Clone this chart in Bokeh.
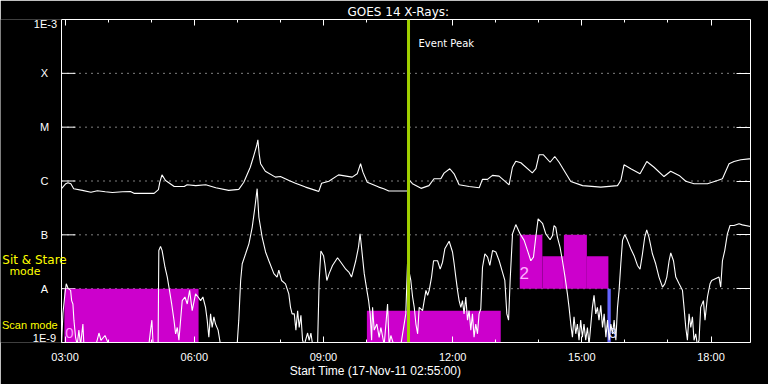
from bokeh.plotting import figure
from bokeh.models import LinearAxis, LogAxis, FixedTicker, Label, Span
from bokeh.embed import file_html
from bokeh.resources import INLINE

# ---------------- data (time = minutes after 00:00 UT, 17-Nov-2011) ----------------
x_start, x_end = 175, 1135          # 02:55 .. 18:55
tick_minutes = [180, 360, 540, 720, 900, 1080]
tick_labels = ["03:00", "06:00", "09:00", "12:00", "15:00", "18:00"]
minor_minutes = [240, 300, 420, 480, 600, 660, 780, 840, 960, 1020]

level_values = [1e-9, 1e-8, 1e-7, 1e-6, 1e-5, 1e-4, 1e-3]
level_names = ["1E-9", "A", "B", "C", "M", "X", "1E-3"]

# GOES 1-8 A (long channel)
long_t = [175, 181, 184, 188, 192, 204, 216, 225, 236, 246,
          260, 271, 276, 304, 310, 312, 315, 320, 332, 346,
          350, 362, 376, 390, 408, 422, 429, 438, 443, 447,
          448.6, 450.4, 452.4, 459, 473, 480, 492, 501, 515, 529,
          533.5, 537.4, 547.5, 561, 580, 587, 591.7, 595, 601, 617,
          624, 631, 657, 659.3, 664, 676, 687, 694, 703.5, 708,
          716, 722, 729, 743, 757, 761.5, 768.5, 775.5, 784.7, 798.6,
          803.3, 808, 815, 831, 836, 840.4, 846.5, 855.8, 862.3, 868.3,
          884.6, 901, 926.4, 949.7, 954.3, 958.8, 968.2, 981.1, 990.5, 1000.6,
          1014.5, 1023.8, 1035.5, 1044.8, 1056.3, 1075, 1089, 1095.9, 1105.1, 1112,
          1121.5, 1133, 1135]
long_flux = [7.2e-7, 8.9e-7, 9.3e-7, 8.9e-7, 7.2e-7, 6.7e-7, 6.2e-7, 6.6e-7, 6.3e-7, 6.1e-7,
             6.3e-7, 6.4e-7, 5.9e-7, 5.9e-7, 6.9e-7, 9.5e-7, 1.30e-6, 1.02e-6, 7.9e-7, 7.9e-7,
             8.5e-7, 8.2e-7, 8.5e-7, 7.5e-7, 6.7e-7, 7.0e-7, 9.5e-7, 1.80e-6, 2.98e-6, 4.56e-6,
             5.82e-6, 3.20e-6, 2.09e-6, 1.52e-6, 1.18e-6, 1.21e-6, 1.02e-6, 9.1e-7, 7.7e-7, 6.7e-7,
             6.4e-7, 9.1e-7, 9.9e-7, 1.30e-6, 1.18e-6, 1.36e-6, 2.09e-6, 1.46e-6, 9.5e-7, 7.7e-7,
             7.2e-7, 6.5e-7, 6.5e-7, 1.05e-6, 8.9e-7, 7.3e-7, 8.2e-7, 1.10e-6, 1.10e-6, 1.40e-6,
             1.69e-6, 1.36e-6, 8.5e-7, 7.9e-7, 7.5e-7, 1.07e-6, 1.07e-6, 1.27e-6, 1.23e-6, 8.5e-7,
             1.80e-6, 2.33e-6, 2.18e-6, 1.42e-6, 1.69e-6, 3.07e-6, 3.07e-6, 2.23e-6, 2.85e-6, 2.23e-6,
             9.8e-7, 8.2e-7, 7.7e-7, 8.2e-7, 1.02e-6, 2.00e-6, 1.69e-6, 1.36e-6, 2.30e-6, 1.80e-6,
             1.21e-6, 1.52e-6, 1.27e-6, 9.9e-7, 8.9e-7, 8.9e-7, 1.02e-6, 1.10e-6, 2.09e-6, 2.30e-6,
             2.48e-6, 2.58e-6, 2.58e-6]

# GOES 0.5-4 A (short channel)
short_t = [175, 177, 179.8, 181.6, 184.4, 187.7, 189.1, 190.9, 192.3, 194.6,
           196.9, 199.2, 201.6, 204.8, 206.2, 223, 227.2, 230, 235.6, 241.1,
           296.7, 299.1, 300.9, 302.7, 309.6, 310.6, 313, 315.2, 319.2, 322.4,
           324.7, 328.5, 331.7, 334, 336.3, 338.6, 343.2, 347, 350.2, 353.5,
           357.1, 361.8, 365.4, 368.8, 372, 375.7, 378, 380.3, 382.7, 384.9,
           387.3, 389.6, 393.2, 396.6, 419.7, 422, 424.6, 426.8, 431.5, 436.1,
           440.7, 444.5, 447.6, 450, 454.6, 459.3, 463.9, 470.9, 475.4, 477.8,
           481.6, 487.1, 491.7, 494.1, 496.3, 499.3, 501.6, 504, 506.2, 508.6,
           510.9, 513.2, 517.9, 520.1, 522.5, 524.9, 531.8, 534, 536.4, 540.1,
           541.9, 544.7, 547.9, 552.6, 559.6, 564.2, 571.1, 575.7, 579.1, 585,
           588.8, 591, 593, 596.8, 600.5, 602.9, 605.1, 607.1, 608.4, 610.7,
           614.4, 617.6, 620, 624.6, 629.3, 631.5, 633.9, 638, 647.8, 654.7,
           657.1, 661.7, 664.2, 666.5, 668.8, 671.2, 673.4, 678.1, 680.4, 682.8,
           685.1, 687.3, 690.6, 693.4, 699, 702.6, 705.9, 709.1, 715.1, 719.8,
           722.1, 724.4, 726.8, 729, 731.4, 733.7, 735.9, 738.3, 740.7, 742.9,
           745.3, 747.6, 749.8, 752.2, 754.6, 756.8, 759.2, 761.6, 764.9, 768.7,
           771.8, 775.6, 780.2, 784.8, 789.5, 792.7, 795.5, 797.9, 800.1, 803.4,
           808, 814, 819.6, 824.3, 828.9, 832.6, 835.8, 839.1, 845.2, 849.8,
           855.8, 859.1, 861.3, 863.7, 866, 869.6, 873, 876.6, 879.9, 882.2,
           884.6, 886.9, 889.1, 891.5, 893.8, 896.1, 898.4, 900.8, 903, 905.4,
           907.8, 910, 914.7, 917, 919.4, 921.7, 923.9, 926.4, 928.8, 931.1,
           933.5, 935.8, 938.1, 940.4, 942.8, 945, 947.4, 949.7, 951.9, 954.3,
           956.7, 959.8, 963.6, 968.2, 972.8, 977.5, 981.1, 984.5, 987.6, 990.4,
           993.6, 998.3, 1002.9, 1007.5, 1012.4, 1015.6, 1018.4, 1021.6, 1023.9, 1027.7,
           1030.9, 1035.5, 1040.2, 1042.4, 1044.8, 1047.1, 1049.4, 1051.8, 1054.1, 1056.3,
           1058.7, 1061, 1063.3, 1065.6, 1069.4, 1071.6, 1075, 1078.6, 1080.9, 1091.1,
           1093.5, 1095.9, 1099.1, 1102.8, 1106.5, 1112, 1119, 1123.7, 1135]
short_flux = [9e-10, 3.5e-9, 8.0e-9, 1.23e-8, 1.0e-8, 9.3e-9, 6.0e-9, 5.2e-9, 2.6e-9, 1.25e-9,
              9e-10, 1.7e-9, 9e-10, 2.2e-9, 9e-10, 9e-10, 1.5e-9, 1.1e-9, 1.35e-9, 9e-10,
              9e-10, 1.7e-9, 2.6e-9, 9e-10, 9e-10, 5.1e-8, 6.1e-8, 5.1e-8, 2.5e-8, 1.64e-8,
              1.07e-8, 5.2e-9, 2.6e-9, 1.45e-9, 1.9e-9, 1.1e-9, 6.0e-9, 7.0e-9, 5.2e-9, 9.3e-9,
              3.9e-9, 8.0e-9, 7.0e-9, 6.0e-9, 7.0e-9, 4.5e-9, 2.6e-9, 1.25e-9, 3.4e-9, 1.9e-9,
              3.0e-9, 2.2e-9, 1.7e-9, 9e-10, 9e-10, 2.6e-9, 1.42e-8, 2.9e-8, 4.45e-8, 6.8e-8,
              1.38e-7, 3.26e-7, 7.2e-7, 2.12e-7, 9.0e-8, 4.8e-8, 3.3e-8, 1.9e-8, 1.64e-8, 2.2e-8,
              1.42e-8, 1.23e-8, 8.0e-9, 4.5e-9, 3.4e-9, 3.4e-9, 1.7e-9, 3.9e-9, 1.9e-9, 3.2e-9,
              1.1e-9, 9e-10, 1.5e-9, 1.1e-9, 1.5e-9, 9e-10, 9e-10, 1.42e-8, 5.0e-8, 4.1e-8,
              2.9e-8, 1.42e-8, 1.9e-8, 2.7e-8, 3.75e-8, 3.1e-8, 2.3e-8, 2.0e-8, 1.64e-8, 3.3e-8,
              5.9e-8, 1.04e-7, 5.9e-8, 1.9e-8, 9.3e-9, 6.0e-9, 3.4e-9, 1.1e-9, 4.5e-9, 1.7e-9,
              2.2e-9, 1.25e-9, 1.9e-9, 9e-10, 5.2e-9, 9e-10, 1.35e-9, 9e-10, 9e-10, 3.4e-9,
              2.9e-8, 1.42e-8, 7.0e-9, 4.5e-9, 2.2e-9, 1.45e-9, 4.5e-9, 3.9e-9, 6.0e-9, 9.3e-9,
              7.5e-9, 9.3e-9, 1.64e-8, 3.3e-8, 3.3e-8, 2.3e-8, 3.1e-8, 5.5e-8, 7.6e-8, 4.8e-8,
              2.9e-8, 1.64e-8, 9.3e-9, 6.0e-9, 4.5e-9, 6.0e-9, 3.4e-9, 7.0e-9, 2.6e-9, 3.9e-9,
              1.7e-9, 3.4e-9, 1.25e-9, 2.2e-9, 1.45e-9, 3.4e-9, 4.2e-9, 2.5e-8, 4.45e-8, 3.85e-8,
              2.7e-8, 5.1e-8, 4.8e-8, 3.3e-8, 2.0e-8, 1.42e-8, 3.4e-9, 2.6e-9, 1.42e-8, 1.04e-7,
              1.55e-7, 1.04e-7, 7.9e-8, 5.1e-8, 3.3e-8, 3.85e-8, 9.0e-8, 1.98e-7, 1.64e-7, 1.04e-7,
              8.1e-8, 9.7e-8, 1.49e-7, 1.38e-7, 9.0e-8, 5.9e-8, 3.3e-8, 1.64e-8, 8.0e-9, 4.5e-9,
              2.2e-9, 1.25e-9, 3.0e-9, 1.45e-9, 2.2e-9, 1.1e-9, 2.6e-9, 1.25e-9, 2.2e-9, 1.1e-9,
              1.9e-9, 9e-10, 4.5e-9, 7.5e-9, 3.4e-9, 4.5e-9, 2.6e-9, 4.9e-9, 1.9e-9, 3.4e-9,
              1.25e-9, 2.6e-9, 1.1e-9, 2.2e-9, 1.45e-9, 2.6e-9, 1.1e-9, 4.5e-9, 9.3e-9, 2.9e-8,
              7.9e-8, 1.01e-7, 7.9e-8, 5.5e-8, 4.1e-8, 2.7e-8, 2.3e-8, 4.45e-8, 9.0e-8, 1.24e-7,
              9.0e-8, 4.45e-8, 2.9e-8, 1.64e-8, 1.07e-8, 1.23e-8, 1.64e-8, 3.3e-8, 4.6e-8, 3.3e-8,
              1.64e-8, 1.23e-8, 9.3e-9, 4.5e-9, 1.9e-9, 1.1e-9, 3.4e-9, 1.9e-9, 3.0e-9, 1.1e-9,
              1.45e-9, 9e-10, 1.1e-9, 4.5e-9, 6.0e-9, 2.6e-9, 7.0e-9, 1.23e-8, 1.42e-8, 1.64e-8,
              1.07e-8, 3.3e-8, 5.1e-8, 1.04e-7, 1.49e-7, 1.49e-7, 1.6e-7, 1.53e-7, 1.43e-7]

# observing-mode blocks (scan / sit & stare) and dwell block
mode_start = [179, 600.5, 813.5, 845, 875, 907]
mode_end = [366, 787, 845, 875, 907, 937]
mode_low = [1e-9, 1e-9, 1e-8, 1e-8, 1e-8, 1e-8]
mode_high = [1e-8, 3.9e-9, 1e-7, 4e-8, 1e-7, 4e-8]
dwell_start = [935.7]
dwell_end = [940.3]
dwell_low = [1e-9]
dwell_high = [1e-8]

event_peak = 658.5   # 10:58.5

# ---------------- figure ----------------
# the frame reaches the left edge of the canvas so that the left-hand labels are not clipped
x_canvas_left = 90
FONT = "Liberation Sans"

p = figure(width=768, height=384, output_backend="svg", toolbar_location=None,
           x_range=(x_canvas_left, x_end), y_range=(level_values[0], level_values[-1]),
           y_axis_type="log", x_axis_location=None, y_axis_location=None,
           background_fill_color="black", border_fill_color="black",
           min_border_left=0, min_border_right=18, min_border_top=19, min_border_bottom=42)
p.outline_line_color = None
p.xgrid.visible = False
p.ygrid.visible = False

p.title.text = "GOES 14 X-Rays:"
p.title.text_color = "white"
p.title.text_font = "DejaVu Sans"
p.title.text_font_size = "12px"
p.title.text_font_style = "normal"
p.title.align = "left"
p.title.offset = 347
p.title.standoff = 2

xt = FixedTicker(ticks=tick_minutes, minor_ticks=minor_minutes)
axis_style = dict(axis_line_color="white", major_tick_line_color="white",
                  minor_tick_line_color="white", major_tick_in=6, major_tick_out=0,
                  minor_tick_in=3, minor_tick_out=0, bounds=(x_start, x_end))
xb = LinearAxis(ticker=xt,
                major_label_overrides={t: l for t, l in zip(tick_minutes, tick_labels)},
                axis_label="Start Time (17-Nov-11 02:55:00)",
                major_label_text_color="white", major_label_text_font=FONT,
                major_label_text_font_size="11px", major_label_standoff=8,
                axis_label_text_color="white", axis_label_text_font=FONT,
                axis_label_text_font_size="12px", axis_label_text_font_style="normal",
                axis_label_standoff=-2, **axis_style)
p.add_layout(xb, "below")

xa = LinearAxis(ticker=xt, major_label_overrides={t: "" for t in tick_minutes},
                major_label_text_font_size="0px", major_label_standoff=0, **axis_style)
p.add_layout(xa, "above")

ya = LogAxis(ticker=FixedTicker(ticks=level_values[1:-1]),
             major_label_overrides={v: "" for v in level_values},
             axis_line_color="white", major_tick_line_color="white",
             major_tick_in=14, major_tick_out=0, minor_tick_in=0, minor_tick_out=0,
             major_label_text_font_size="0px", major_label_standoff=0)
p.add_layout(ya, "right")

# left edge of the plot box and its 14 px ticks
p.add_layout(Span(location=x_start, dimension="height", line_color="white", line_width=1))
inner = level_values[1:-1]
p.ray(x=[x_start] * len(inner), y=inner, length=14, length_units="screen", angle=0,
      line_color="white", line_width=1)

# dotted level lines
p.segment(x0=[x_start] * len(inner), x1=[x_end] * len(inner), y0=inner, y1=inner,
          line_color="white", line_width=1, line_dash="1 5")

# mode blocks
p.quad(left=mode_start, right=mode_end, bottom=mode_low, top=mode_high,
       fill_color="#cc00cc", line_color=None)
p.quad(left=dwell_start, right=dwell_end, bottom=dwell_low, top=dwell_high,
       fill_color="#6464ff", line_color=None)

# light curves
p.line(long_t, long_flux, line_color="white", line_width=1.1)
p.line(short_t, short_flux, line_color="white", line_width=1.1)

# event peak
p.add_layout(Span(location=event_peak, dimension="height", line_color="#a0d000", line_width=3))

# ---------------- texts (screen units relative to the plot frame) ----------------
def lab(text, x, y, color="white", size="11px", font=FONT, align="center", y_units="screen"):
    p.add_layout(Label(x=x, y=y, x_units="screen", y_units=y_units, text=text,
                       text_color=color, text_font_size=size, text_font=font,
                       text_align=align, text_baseline="middle"))

lab("Event Peak", 418, 299, size="10px", font="DejaVu Sans", align="left")

for v, name in zip(level_values, level_names):
    if name == "1E-3":
        lab(name, 56.5, 319, align="right")
    elif name == "1E-9":
        lab(name, 55.5, 5, align="right")
    else:
        lab(name, 44, v, y_units="data")

lab("Sit & Stare", 34, 83, color="#ffff00", size="12px", font="DejaVu Sans")
lab("mode", 24.5, 71, color="#ffff00", size="11px", font="DejaVu Sans")
lab("Scan mode", 1.5, 18, color="#ffff00", size="11px", align="left")

lab("0", 68.8, 9.5, color="#ff9cff", size="15px")
lab("2", 523.7, 69.5, color="#ffb0ff", size="17px")
lab("3", 612.5, 9.5, color="#e0e0ff", size="14px")

open("out.html", "w").write(file_html(p, INLINE))
